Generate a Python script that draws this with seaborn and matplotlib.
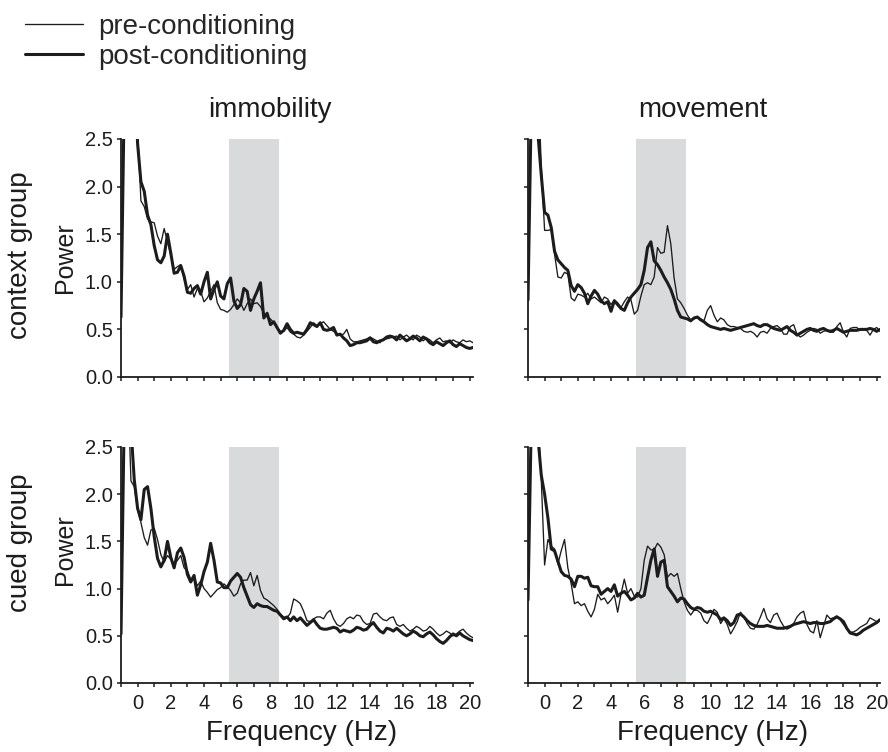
import numpy as np
import matplotlib
matplotlib.use("Agg")
import matplotlib.pyplot as plt
import seaborn as sns

# frequency grid of the spectra (Hz)
freq = np.round(np.arange(-1.0, 20.21, 0.2), 1)

# context group, immobility
ctx_imm_post = [
    0.63, 3.0, 4.0, 4.0, 3.3, 2.45, 2.05, 1.95, 1.70, 1.60,
    1.38, 1.23, 1.20, 1.27, 1.50, 1.30, 1.09, 1.10, 1.17, 1.06,
    0.89, 0.88, 0.93, 0.96, 0.87, 1.00, 1.10, 0.82, 0.92, 1.00,
    0.85, 0.82, 0.98, 1.04, 0.80, 0.72, 0.76, 0.93, 0.90, 0.70,
    0.82, 0.90, 0.99, 0.62, 0.67, 0.55, 0.58, 0.52, 0.46, 0.49,
    0.56, 0.50, 0.46, 0.47, 0.46, 0.45, 0.50, 0.57, 0.55, 0.53,
    0.57, 0.50, 0.49, 0.50, 0.52, 0.44, 0.45, 0.41, 0.38, 0.33,
    0.34, 0.36, 0.36, 0.37, 0.38, 0.41, 0.37, 0.36, 0.38, 0.39,
    0.42, 0.43, 0.42, 0.39, 0.44, 0.41, 0.38, 0.40, 0.43, 0.41,
    0.38, 0.42, 0.40, 0.36, 0.34, 0.37, 0.35, 0.33, 0.36, 0.38,
    0.34, 0.32, 0.35, 0.33, 0.31, 0.30, 0.31,
]
ctx_imm_pre = [
    0.63, 3.0, 4.2, 4.2, 3.5, 2.6, 1.85, 1.79, 1.66, 1.63,
    1.62, 1.48, 1.40, 1.56, 1.42, 1.28, 1.13, 1.16, 1.18, 1.03,
    0.92, 0.97, 0.84, 0.93, 0.90, 0.79, 0.83, 0.90, 0.97, 0.78,
    0.71, 0.70, 0.68, 0.71, 0.76, 0.82, 0.78, 0.70, 0.77, 0.82,
    0.77, 0.78, 0.74, 0.67, 0.63, 0.61, 0.57, 0.51, 0.48, 0.48,
    0.52, 0.47, 0.45, 0.42, 0.41, 0.44, 0.48, 0.52, 0.57, 0.54,
    0.56, 0.58, 0.54, 0.50, 0.48, 0.46, 0.44, 0.45, 0.50, 0.40,
    0.37, 0.37, 0.38, 0.39, 0.40, 0.42, 0.40, 0.38, 0.36, 0.40,
    0.40, 0.41, 0.42, 0.43, 0.39, 0.42, 0.44, 0.41, 0.39, 0.44,
    0.42, 0.38, 0.41, 0.39, 0.36, 0.39, 0.41, 0.37, 0.38, 0.36,
    0.39, 0.37, 0.36, 0.39, 0.37, 0.38, 0.36,
]

# context group, movement
ctx_mov_post = [
    0.81, 2.9, 3.4, 2.55, 2.12, 1.73, 1.70, 1.57, 1.32, 1.23,
    1.19, 1.15, 1.12, 0.96, 0.90, 0.97, 0.94, 0.88, 0.77, 0.85,
    0.91, 0.87, 0.80, 0.77, 0.79, 0.69, 0.80, 0.76, 0.72, 0.70,
    0.78, 0.84, 0.88, 0.92, 0.97, 1.12, 1.36, 1.42, 1.22, 1.18,
    1.12, 1.05, 0.99, 0.92, 0.82, 0.70, 0.63, 0.62, 0.61, 0.59,
    0.62, 0.63, 0.60, 0.58, 0.55, 0.53, 0.52, 0.51, 0.50, 0.51,
    0.50, 0.49, 0.50, 0.51, 0.52, 0.53, 0.54, 0.55, 0.56, 0.54,
    0.53, 0.55, 0.55, 0.53, 0.51, 0.50, 0.49, 0.51, 0.53, 0.49,
    0.47, 0.44, 0.46, 0.48, 0.50, 0.51, 0.49, 0.48, 0.50, 0.51,
    0.49, 0.48, 0.49, 0.51, 0.49, 0.47, 0.48, 0.49, 0.49, 0.49,
    0.50, 0.50, 0.50, 0.51, 0.50, 0.48, 0.50,
]
ctx_mov_pre = [
    0.81, 2.9, 3.6, 3.2, 2.2, 1.54, 1.54, 1.55, 1.29, 1.05,
    1.04, 1.10, 1.08, 0.83, 0.80, 0.87, 0.86, 0.84, 0.88, 0.82,
    0.84, 0.81, 0.78, 0.84, 0.82, 0.76, 0.81, 0.78, 0.73, 0.79,
    0.84, 0.81, 0.66, 0.70, 0.85, 0.97, 0.99, 0.97, 1.05, 1.36,
    1.30, 1.31, 1.59, 1.40, 1.04, 0.82, 0.78, 0.72, 0.65, 0.60,
    0.61, 0.63, 0.61, 0.59, 0.70, 0.75, 0.65, 0.58, 0.62, 0.60,
    0.55, 0.53, 0.53, 0.52, 0.51, 0.48, 0.47, 0.48, 0.46, 0.42,
    0.47, 0.48, 0.46, 0.51, 0.53, 0.54, 0.51, 0.45, 0.45, 0.53,
    0.55, 0.45, 0.42, 0.44, 0.47, 0.49, 0.51, 0.50, 0.46, 0.48,
    0.49, 0.47, 0.47, 0.53, 0.57, 0.47, 0.42, 0.51, 0.52, 0.52,
    0.49, 0.50, 0.49, 0.44, 0.50, 0.52, 0.48,
]

# cued group, immobility
cue_imm_post = [
    0.52, 2.9, 3.8, 2.7, 2.15, 1.85, 1.73, 2.05, 2.08, 1.85,
    1.55, 1.32, 1.23, 1.30, 1.50, 1.33, 1.22, 1.38, 1.43, 1.33,
    1.15, 1.07, 1.14, 0.93, 1.04, 1.18, 1.28, 1.48, 1.30, 1.07,
    1.06, 1.01, 1.01, 1.08, 1.12, 1.16, 1.12, 1.01, 0.92, 0.83,
    0.80, 0.84, 0.82, 0.81, 0.81, 0.79, 0.77, 0.76, 0.72, 0.68,
    0.70, 0.66, 0.70, 0.66, 0.69, 0.65, 0.61, 0.64, 0.67, 0.62,
    0.58, 0.57, 0.57, 0.58, 0.59, 0.58, 0.54, 0.56, 0.55, 0.54,
    0.56, 0.59, 0.58, 0.56, 0.57, 0.61, 0.64, 0.59, 0.55, 0.53,
    0.58, 0.57, 0.55, 0.58, 0.55, 0.52, 0.50, 0.52, 0.55, 0.53,
    0.50, 0.49, 0.52, 0.54, 0.51, 0.47, 0.44, 0.42, 0.45, 0.49,
    0.52, 0.50, 0.53, 0.50, 0.48, 0.46, 0.45,
]
cue_imm_pre = [
    0.52, 2.9, 3.2, 2.14, 2.08, 1.84, 1.70, 1.54, 1.46, 1.62,
    1.64, 1.52, 1.36, 1.28, 1.35, 1.31, 1.25, 1.30, 1.35, 1.22,
    1.19, 1.10, 1.12, 1.03, 1.08, 1.00, 0.96, 0.91, 0.95, 0.99,
    1.01, 1.05, 1.02, 0.98, 0.92, 0.95, 1.05, 1.09, 1.09, 1.17,
    1.03, 1.14, 0.98, 0.90, 0.88, 0.85, 0.82, 0.78, 0.73, 0.70,
    0.69, 0.74, 0.89, 0.87, 0.84, 0.76, 0.66, 0.65, 0.68, 0.70,
    0.70, 0.68, 0.74, 0.77, 0.68, 0.62, 0.60, 0.63, 0.68, 0.70,
    0.68, 0.72, 0.71, 0.65, 0.62, 0.63, 0.73, 0.74, 0.70, 0.67,
    0.66, 0.69, 0.70, 0.62, 0.60, 0.62, 0.58, 0.55, 0.57, 0.60,
    0.58, 0.55, 0.56, 0.60, 0.57, 0.53, 0.50, 0.52, 0.55, 0.53,
    0.50, 0.52, 0.55, 0.57, 0.53, 0.50, 0.48,
]

# cued group, movement
cue_mov_post = [
    0.88, 2.8, 3.6, 2.6, 2.2, 2.0, 1.75, 1.42, 1.40, 1.29,
    1.18, 1.14, 1.13, 1.10, 1.02, 1.13, 1.13, 1.11, 1.12, 1.03,
    1.02, 1.02, 0.94, 0.97, 1.00, 0.97, 1.04, 0.92, 0.95, 0.97,
    0.93, 0.88, 0.90, 0.95, 0.91, 0.93, 1.12, 1.30, 1.42, 1.13,
    1.28, 1.30, 1.02, 0.97, 0.92, 0.86, 0.90, 0.89, 0.84, 0.80,
    0.78, 0.80, 0.79, 0.76, 0.75, 0.76, 0.74, 0.72, 0.67, 0.69,
    0.66, 0.61, 0.64, 0.72, 0.73, 0.70, 0.66, 0.63, 0.61, 0.60,
    0.60, 0.60, 0.61, 0.60, 0.59, 0.58, 0.58, 0.58, 0.59, 0.60,
    0.62, 0.63, 0.64, 0.65, 0.64, 0.63, 0.64, 0.64, 0.63, 0.63,
    0.64, 0.65, 0.68, 0.70, 0.68, 0.65, 0.58, 0.53, 0.52, 0.51,
    0.53, 0.56, 0.58, 0.60, 0.62, 0.64, 0.67,
]
cue_mov_pre = [
    0.88, 2.8, 3.4, 2.8, 2.15, 1.25, 1.52, 1.45, 1.42, 1.26,
    1.40, 1.52, 1.22, 1.05, 0.84, 0.86, 0.82, 0.84, 0.76, 0.70,
    0.78, 0.94, 0.88, 0.90, 0.84, 0.88, 0.93, 0.75, 0.94, 1.10,
    0.95, 1.00, 0.92, 0.91, 1.00, 1.30, 1.45, 1.41, 1.41, 1.48,
    1.44, 1.36, 1.12, 1.16, 1.13, 1.16, 1.00, 0.86, 0.77, 0.72,
    0.77, 0.77, 0.74, 0.66, 0.63, 0.70, 0.78, 0.75, 0.63, 0.68,
    0.62, 0.52, 0.58, 0.65, 0.75, 0.70, 0.63, 0.58, 0.57, 0.62,
    0.70, 0.79, 0.68, 0.64, 0.72, 0.74, 0.66, 0.60, 0.57, 0.59,
    0.63, 0.70, 0.74, 0.76, 0.62, 0.55, 0.53, 0.66, 0.48, 0.60,
    0.72, 0.68, 0.69, 0.71, 0.67, 0.62, 0.58, 0.54, 0.54, 0.56,
    0.59, 0.61, 0.63, 0.69, 0.67, 0.65, 0.66,
]

band = (5.5, 8.5)          # shaded theta band
yticks = [0.0, 0.5, 1.0, 1.5, 2.0, 2.5]
xticks = list(range(-1, 21))

INK = "#1c1c1c"
SHADE = "#d9dadc"

sns.set_style("ticks")
plt.rcParams["font.family"] = ["Liberation Sans", "DejaVu Sans"]

fig = plt.figure(figsize=(8.88, 7.52), dpi=100)
W, H = 888, 752


def box(left, top, width, height):
    return [left / W, 1 - (top + height) / H, width / W, height / H]


panels = [
    (box(121, 139, 352, 238), ctx_imm_post, ctx_imm_pre, True, False),
    (box(528, 139, 352, 238), ctx_mov_post, ctx_mov_pre, False, False),
    (box(121, 447, 352, 236), cue_imm_post, cue_imm_pre, True, True),
    (box(528, 447, 352, 236), cue_mov_post, cue_mov_pre, False, True),
]

axes = []
for rect, post, pre, left_col, bottom_row in panels:
    ax = fig.add_axes(rect)
    ax.axvspan(*band, color=SHADE, lw=0, zorder=0)
    sns.lineplot(x=freq, y=post, ax=ax, color=INK, linewidth=2.2,
                 label="post-conditioning", legend=False)
    sns.lineplot(x=freq, y=pre, ax=ax, color=INK, linewidth=0.95,
                 label="pre-conditioning", legend=False)
    ax.set_xlim(-1, 20.2)
    ax.set_ylim(0, 2.5)
    ax.set_xticks(xticks)
    if bottom_row:
        ax.set_xticklabels([str(t) if t >= 0 and t % 2 == 0 else "" for t in xticks])
    else:
        ax.set_xticklabels([])
    ax.set_yticks(yticks)
    if left_col:
        ax.set_yticklabels([f"{v:.1f}" for v in yticks])
    else:
        ax.set_yticklabels([])
    ax.set_xlabel("")
    ax.set_ylabel("")
    ax.tick_params(direction="out", length=3, width=1.1, color=INK,
                   labelsize=14.5, labelcolor=INK)
    ax.tick_params(axis="x", pad=5)
    ax.tick_params(axis="y", pad=3)
    sns.despine(ax=ax)
    for s in ["left", "bottom"]:
        ax.spines[s].set_linewidth(1.3)
        ax.spines[s].set_color(INK)
    ax.patch.set_alpha(0)
    axes.append(ax)

# column titles and axis labels
fig.text(270 / W, 1 - 110 / H, "immobility", ha="center", va="center", fontsize=20, color=INK)
fig.text(703 / W, 1 - 110 / H, "movement", ha="center", va="center", fontsize=20, color=INK)
fig.text(302 / W, 1 - 733 / H, "Frequency (Hz)", ha="center", va="center", fontsize=20, color=INK)
fig.text(713 / W, 1 - 733 / H, "Frequency (Hz)", ha="center", va="center", fontsize=20, color=INK)

# row labels
fig.text(20 / W, 1 - 255 / H, "context group", rotation=90, ha="center", va="center", fontsize=20, color=INK)
fig.text(65 / W, 1 - 258 / H, "Power", rotation=90, ha="center", va="center", fontsize=18, color=INK)
fig.text(20 / W, 1 - 543 / H, "cued group", rotation=90, ha="center", va="center", fontsize=20, color=INK)
fig.text(65 / W, 1 - 550 / H, "Power", rotation=90, ha="center", va="center", fontsize=18, color=INK)

# legend (pre first, as in the reference)
handles, labels = axes[0].get_legend_handles_labels()
order = [labels.index("pre-conditioning"), labels.index("post-conditioning")]
fig.legend([handles[i] for i in order], [labels[i] for i in order],
           loc="upper left", bbox_to_anchor=(25 / W, 1 - 14 / H),
           frameon=False, fontsize=20, handlelength=2.1, handletextpad=0.55,
           labelspacing=0.15, borderpad=0, borderaxespad=0)

fig.savefig("out.png", dpi=100)
